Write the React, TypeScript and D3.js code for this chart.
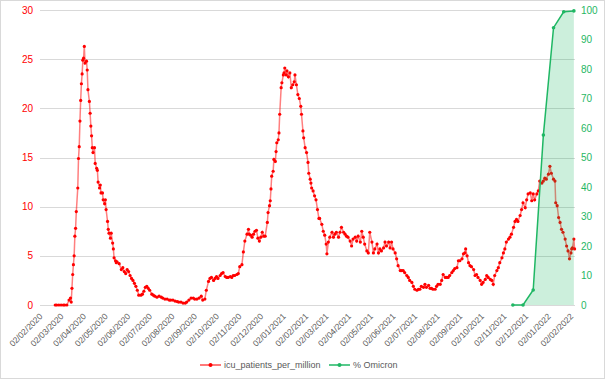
import React, { useEffect, useRef } from "react";
import * as d3 from "d3";

// ---- data ----
const startDate = "2020-02-02";
const endDay = 736;

const icuDays = [
  21, 23, 26, 29, 32, 34, 37, 40, 42, 43, 44, 45, 46, 47, 48, 49, 50, 52, 53, 54, 55, 56, 57, 58, 59, 60, 61, 62, 64, 65,
  66, 68, 69, 70, 71, 72, 73, 75, 76, 78, 79, 80, 82, 83, 84, 86, 87, 89, 90, 91, 93, 94, 95, 97, 98, 100, 101, 102, 104, 105,
  106, 109, 112, 114, 116, 118, 120, 122, 124, 126, 128, 130, 132, 134, 136, 139, 141, 143, 145, 147, 149, 151, 154, 156, 158, 161, 164, 167, 169, 172,
  175, 178, 180, 183, 186, 189, 191, 194, 197, 200, 202, 205, 208, 211, 213, 216, 219, 222, 224, 227, 229, 232, 234, 236, 239, 241, 243, 245, 248, 250,
  252, 255, 257, 259, 262, 264, 266, 268, 271, 273, 275, 278, 280, 282, 285, 287, 288, 290, 292, 294, 296, 298, 300, 302, 304, 306, 308, 310, 313, 314,
  316, 317, 318, 319, 321, 322, 324, 325, 326, 328, 329, 330, 332, 333, 335, 336, 337, 339, 340, 342, 344, 346, 348, 350, 351, 353, 355, 357, 359, 360,
  362, 363, 365, 367, 369, 370, 372, 373, 374, 376, 378, 380, 382, 384, 385, 388, 390, 392, 394, 395, 397, 399, 402, 404, 406, 408, 411, 413, 415, 418,
  420, 422, 424, 427, 429, 431, 434, 436, 438, 441, 443, 445, 447, 450, 452, 454, 457, 459, 461, 464, 466, 468, 470, 473, 475, 477, 480, 482, 484, 486,
  489, 491, 493, 496, 498, 500, 502, 505, 507, 509, 512, 514, 516, 519, 521, 523, 525, 528, 530, 532, 535, 537, 539, 541, 544, 546, 548, 551, 553, 555,
  558, 560, 562, 564, 567, 569, 571, 574, 576, 578, 581, 583, 585, 586, 588, 590, 592, 594, 597, 599, 601, 603, 606, 608, 610, 613, 615, 617, 620, 622,
  624, 626, 629, 631, 633, 636, 638, 640, 642, 645, 647, 649, 652, 654, 656, 658, 661, 663, 665, 668, 670, 672, 675, 677, 679, 681, 684, 686, 688, 691,
  693, 695, 697, 700, 702, 704, 707, 709, 710, 712, 714, 716, 718, 720, 723, 725, 727, 729, 731, 732, 733, 735, 736,
];

const icuValues = [
  0, 0, 0, 0, 0, 0, 0, 0.5, 0.7, 0.3, 1.7, 3.1, 4.1, 5.0, 7.0, 7.8, 9.5, 11.9, 14.9, 16.1, 18.7, 20.8, 22.5, 23.5, 24.9, 25.1, 26.3, 24.6, 24.8, 23.9,
  21.9, 20.7, 19.5, 18.2, 17.2, 16.0, 15.5, 16.0, 14.4, 13.9, 13.7, 12.5, 11.9, 12.2, 11.4, 11.4, 10.7, 10.3, 10.7, 9.7, 8.5, 7.7, 7.3, 6.8, 7.3, 6.3, 5.7, 4.8, 4.5, 4.3,
  4.4, 4.2, 3.6, 3.8, 3.4, 3.2, 3.6, 3.4, 3.0, 2.7, 2.5, 2.2, 1.9, 1.5, 1.0, 1.0, 1.1, 1.4, 1.8, 1.9, 1.7, 1.5, 1.1, 1.0, 0.9, 0.8, 0.9, 0.8, 0.7, 0.6,
  0.6, 0.5, 0.5, 0.5, 0.4, 0.35, 0.3, 0.3, 0.2, 0.2, 0.3, 0.5, 0.7, 0.7, 0.6, 0.6, 0.7, 0.9, 0.5, 0.6, 1.5, 2.4, 2.7, 2.8, 2.5, 2.7, 2.9, 2.7, 3.0, 3.2,
  3.3, 2.9, 2.8, 2.8, 2.9, 2.8, 3.0, 3.0, 3.1, 3.2, 3.9, 4.1, 5.4, 6.5, 7.2, 7.7, 7.2, 7.1, 6.9, 7.2, 7.5, 7.6, 6.8, 6.5, 6.9, 7.4, 7.0, 7.0, 8.4, 9.4,
  10.1, 10.6, 11.8, 13.1, 13.6, 14.8, 14.6, 15.6, 16.5, 16.8, 17.5, 19.4, 22.1, 22.6, 23.4, 23.6, 24.1, 23.4, 23.8, 23.2, 23.6, 22.1, 22.4, 22.7, 23.4, 22.4, 21.4, 21.0, 20.2, 19.4,
  17.7, 17.0, 16.0, 15.5, 14.5, 13.4, 12.8, 12.4, 11.9, 11.6, 11.1, 10.7, 9.7, 8.8, 8.8, 8.2, 7.5, 7.1, 6.2, 5.2, 6.4, 6.9, 7.4, 6.9, 7.2, 7.4, 6.9, 7.4, 7.9, 7.4,
  7.2, 7.0, 6.9, 6.5, 6.0, 6.7, 6.9, 6.5, 7.0, 6.4, 7.5, 6.9, 6.2, 5.5, 5.3, 7.4, 6.4, 5.3, 5.7, 6.2, 5.3, 5.7, 5.5, 5.8, 6.4, 6.0, 6.4, 5.8, 6.4, 5.7,
  5.3, 4.7, 4.0, 3.5, 3.5, 3.5, 3.3, 3.0, 2.8, 2.5, 2.3, 1.9, 1.6, 1.5, 1.6, 1.6, 1.9, 1.8, 2.1, 1.8, 2.0, 1.7, 1.7, 1.6, 1.6, 1.9, 2.1, 2.1, 2.5, 3.1,
  2.8, 2.8, 2.8, 3.0, 3.3, 3.5, 3.7, 3.8, 4.5, 4.5, 4.7, 5.2, 5.3, 5.7, 5.0, 4.3, 4.0, 3.9, 3.6, 3.0, 3.1, 2.8, 2.5, 2.1, 2.3, 2.6, 3.0, 2.8, 2.6, 2.5,
  2.1, 3.0, 3.5, 3.8, 4.3, 4.8, 5.3, 5.7, 6.4, 6.7, 6.9, 7.2, 7.9, 8.5, 8.7, 8.5, 9.1, 9.7, 10.4, 9.9, 10.7, 11.3, 11.4, 10.6, 11.3, 10.7, 11.3, 11.6, 12.6, 12.4,
  12.6, 12.9, 12.8, 13.3, 14.1, 13.4, 12.8, 12.6, 10.4, 10.1, 8.9, 8.4, 7.7, 7.4, 6.7, 6.0, 5.5, 4.7, 5.3, 5.7, 5.8, 6.7, 5.7,
];

const omicronDays = [651, 665, 679, 693, 707, 721, 735];
const omicronValues = [0, 0, 5.1, 57.6, 94, 99.4, 99.7];

const leftTicks = [0, 5, 10, 15, 20, 25, 30];
const rightTicks = [0, 10, 20, 30, 40, 50, 60, 70, 80, 90, 100];
const xTickLabels = [
  "02/02/2020", "02/03/2020", "02/04/2020", "02/05/2020", "02/06/2020", "02/07/2020", "02/08/2020",
  "02/09/2020", "02/10/2020", "02/11/2020", "02/12/2020", "02/01/2021", "02/02/2021", "02/03/2021",
  "02/04/2021", "02/05/2021", "02/06/2021", "02/07/2021", "02/08/2021", "02/09/2021", "02/10/2021",
  "02/11/2021", "02/12/2021", "02/01/2022", "02/02/2022",
];

const seriesNames = ["icu_patients_per_million", "% Omicron"];

export default function App() {
  const ref = useRef<SVGSVGElement>(null);

  useEffect(() => {
    const svg = d3.select(ref.current);
    svg.selectAll("*").remove();
    const font = "'Liberation Sans', Arial, sans-serif";

    const start = d3.timeParse("%Y-%m-%d")(startDate)!;
    const dayDate = (d: number) => d3.timeDay.offset(start, d);
    const parseLabel = d3.timeParse("%d/%m/%Y");

    const x = d3.scaleTime().domain([start, dayDate(endDay)]).range([40, 574.6]);
    const yL = d3.scaleLinear().domain([0, 30]).range([305, 10]);
    const yR = d3.scaleLinear().domain([0, 100]).range([305, 10]);

    const red = "#ff0000";
    const green = "#1fb764";

    // chart border
    svg.append("rect").attr("x", 0.5).attr("y", 0.5).attr("width", 604).attr("height", 378)
      .attr("fill", "#fff").attr("stroke", "#d9d9d9");

    // gridlines
    svg.append("g").selectAll("line").data(leftTicks).join("line")
      .attr("x1", 40).attr("x2", 575)
      .attr("y1", (d) => Math.round(yL(d)) + 0.5).attr("y2", (d) => Math.round(yL(d)) + 0.5)
      .attr("stroke", "#d9d9d9").attr("stroke-width", 1);

    // left axis labels
    svg.append("g").selectAll("text").data(leftTicks).join("text")
      .attr("x", 33).attr("y", (d) => yL(d) + 3.5)
      .attr("text-anchor", "end").attr("font-family", font).attr("font-size", 10)
      .attr("fill", red).text((d) => d);

    // right axis labels
    svg.append("g").selectAll("text").data(rightTicks).join("text")
      .attr("x", 581).attr("y", (d) => yR(d) + 3.5)
      .attr("text-anchor", "start").attr("font-family", font).attr("font-size", 10)
      .attr("fill", green).text((d) => d);

    // x axis labels
    svg.append("g").selectAll("text").data(xTickLabels).join("text")
      .attr("transform", (d) => `translate(${x(parseLabel(d)!) + 3},${317}) rotate(-45)`)
      .attr("text-anchor", "end").attr("font-family", font).attr("font-size", 8.5)
      .attr("fill", "#595959").text((d) => d);

    // red series
    const icu = icuDays.map((d, i) => ({ date: dayDate(d), v: icuValues[i] }));
    const redLine = d3.line<{ date: Date; v: number }>().x((d) => x(d.date)).y((d) => yL(d.v));
    svg.append("path").datum(icu).attr("d", redLine).attr("fill", "none")
      .attr("stroke", red).attr("stroke-opacity", 0.5).attr("stroke-width", 1.5);
    svg.append("g").selectAll("circle").data(icu).join("circle")
      .attr("cx", (d) => x(d.date)).attr("cy", (d) => yL(d.v)).attr("r", 1.6).attr("fill", red);

    // green area + line
    const om = omicronDays.map((d, i) => ({ date: dayDate(d), v: omicronValues[i] }));
    const area = d3.area<{ date: Date; v: number }>().x((d) => x(d.date)).y0(yR(0)).y1((d) => yR(d.v));
    svg.append("path").datum(om).attr("d", area).attr("fill", "#00b050").attr("fill-opacity", 0.2);
    const gLine = d3.line<{ date: Date; v: number }>().x((d) => x(d.date)).y((d) => yR(d.v));
    svg.append("path").datum(om).attr("d", gLine).attr("fill", "none")
      .attr("stroke", green).attr("stroke-width", 1.5);
    svg.append("g").selectAll("circle").data(om).join("circle")
      .attr("cx", (d) => x(d.date)).attr("cy", (d) => yR(d.v)).attr("r", 1.8).attr("fill", green);

    // legend
    const lg = svg.append("g").attr("font-family", font).attr("font-size", 9).attr("fill", "#595959");
    const ly = 365;
    lg.append("line").attr("x1", 200).attr("x2", 221).attr("y1", ly).attr("y2", ly)
      .attr("stroke", red).attr("stroke-width", 1.5).attr("stroke-opacity", 0.7);
    lg.append("circle").attr("cx", 210.5).attr("cy", ly).attr("r", 2).attr("fill", red);
    lg.append("text").attr("x", 224).attr("y", ly + 3.2).text(seriesNames[0]);
    lg.append("line").attr("x1", 329).attr("x2", 350).attr("y1", ly).attr("y2", ly)
      .attr("stroke", green).attr("stroke-width", 1.5);
    lg.append("circle").attr("cx", 339.5).attr("cy", ly).attr("r", 2).attr("fill", green);
    lg.append("text").attr("x", 353).attr("y", ly + 3.2).text(seriesNames[1]);
  }, []);

  return (
    <svg
      ref={ref}
      width={605}
      height={379}
      style={{ position: "absolute", left: 0, top: 0, background: "#fff" }}
    />
  );
}
